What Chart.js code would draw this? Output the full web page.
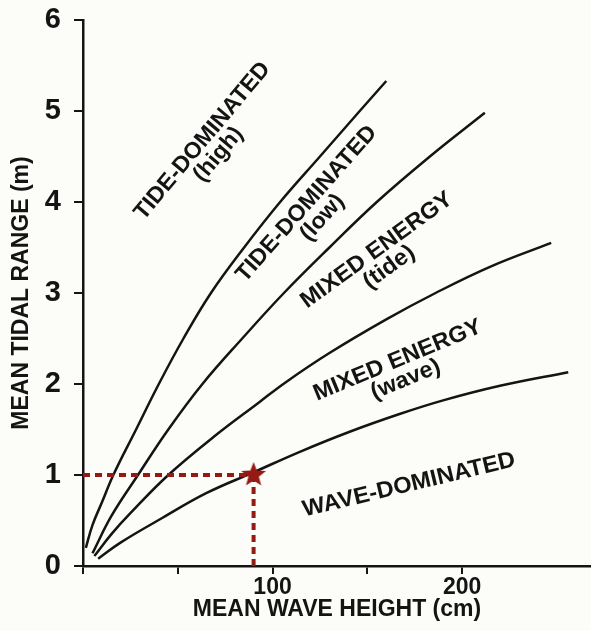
<!DOCTYPE html>
<html>
<head>
<meta charset="utf-8">
<script src="https://cdn.jsdelivr.net/npm/chart.js@4.4.1/dist/chart.umd.min.js"></script>
<style>
  html, body { margin: 0; padding: 0; background: #fcfcf8; }
  #wrap { width: 591px; height: 631px; }
</style>
</head>
<body>
<div id="wrap"><canvas id="chart" width="591" height="631"></canvas></div>
<script>
// Boundary curves (x = mean wave height in cm, y = mean tidal range in m)
const tideHighX = [1.5, 5, 10, 16, 28, 40, 53, 67.5, 85, 104, 125, 146, 160];
const tideHighY = [0.2, 0.45, 0.7, 1.0, 1.5, 2.0, 2.5, 3.0, 3.5, 4.0, 4.5, 5.0, 5.33];

const tideLowX = [5, 15, 29, 45, 63, 84, 106, 130, 155, 183, 212];
const tideLowY = [0.14, 0.55, 1.0, 1.5, 2.0, 2.5, 3.0, 3.5, 4.0, 4.5, 4.98];

const mixedTideX = [6, 15, 25, 45, 69, 93, 107, 130, 160, 186, 215, 247];
const mixedTideY = [0.11, 0.35, 0.58, 1.0, 1.42, 1.8, 2.02, 2.34, 2.71, 3.0, 3.29, 3.55];

const mixedWaveX = [8, 20, 42, 65, 90, 115, 140, 167, 190, 220, 256];
const mixedWaveY = [0.08, 0.26, 0.53, 0.8, 1.03, 1.26, 1.47, 1.67, 1.82, 1.98, 2.13];

// example site marker and its guide lines
const siteX = [90];
const siteY = [1];
const guideHX = [0, 90];
const guideHY = [1, 1];
const guideVX = [90, 90];
const guideVY = [1, 0];

// axes
const xLabelled = [100, 200];
const xStep = 50;
const yStep = 1;

// region names
const regionNames = ['TIDE-DOMINATED', 'TIDE-DOMINATED', 'MIXED ENERGY', 'MIXED ENERGY', 'WAVE-DOMINATED'];
const regionSubs = ['(high)', '(low)', '(tide)', '(wave)', ''];

// where the region names sit (data coords of the first line's centre), rotation, length in px
const regionPlace = [
  { x: 63, y: 4.67, angle: -50, len: 198 },
  { x: 118, y: 3.98, angle: -48.5, len: 200 },
  { x: 155, y: 3.47, angle: -36, len: 182 },
  { x: 166, y: 2.26, angle: -22.5, len: 180 },
  { x: 172, y: 0.89, angle: -13.5, len: 218 }
];

const FONT = '"Liberation Sans", Arial, Helvetica, sans-serif';
const INK = '#141414';
const RED = '#951a14';

const toPoints = (xs, ys) => xs.map((x, i) => ({ x: x, y: ys[i] }));

// filled five-pointed star used as point style
const starImg = document.createElement('canvas');
starImg.width = 28;
starImg.height = 28;
(function () {
  const c = starImg.getContext('2d');
  c.translate(14, 14);
  c.beginPath();
  for (let i = 0; i < 10; i++) {
    const r = i % 2 === 0 ? 13 : 5.5;
    const a = -Math.PI / 2 + i * Math.PI / 5;
    c.lineTo(r * Math.cos(a), r * Math.sin(a));
  }
  c.closePath();
  c.fillStyle = RED;
  c.fill();
})();

const curve = (xs, ys) => ({
  data: toPoints(xs, ys),
  showLine: true,
  borderColor: INK,
  borderWidth: 2.5,
  pointRadius: 0,
  tension: 0.4
});

const guide = (xs, ys) => ({
  data: toPoints(xs, ys),
  showLine: true,
  borderColor: RED,
  borderWidth: 4,
  borderDash: [7, 5],
  pointRadius: 0
});

const regionLabelPlugin = {
  id: 'regionLabels',
  afterDatasetsDraw(chart) {
    const { ctx, scales } = chart;
    ctx.save();
    ctx.fillStyle = INK;
    ctx.font = 'bold 23px ' + FONT;
    ctx.textAlign = 'center';
    ctx.textBaseline = 'middle';
    regionNames.forEach((name, i) => {
      const p = regionPlace[i];
      const px = scales.x.getPixelForValue(p.x);
      const py = scales.y.getPixelForValue(p.y);
      const s = p.len / ctx.measureText(name).width;
      ctx.save();
      ctx.translate(px, py);
      ctx.rotate(p.angle * Math.PI / 180);
      ctx.scale(s, 1);
      ctx.fillText(name, 0, 0);
      if (regionSubs[i]) ctx.fillText(regionSubs[i], 0, 21);
      ctx.restore();
    });
    ctx.restore();
  }
};

const paperPlugin = {
  id: 'paper',
  beforeDraw(chart) {
    const { ctx, width, height } = chart;
    ctx.save();
    ctx.fillStyle = '#fcfcf8';
    ctx.fillRect(0, 0, width, height);
    ctx.restore();
  }
};

new Chart(document.getElementById('chart'), {
  type: 'scatter',
  data: {
    datasets: [
      { data: toPoints(siteX, siteY), pointStyle: starImg, pointRadius: 13, showLine: false, clip: false },
      guide(guideHX, guideHY),
      guide(guideVX, guideVY),
      curve(tideHighX, tideHighY),
      curve(tideLowX, tideLowY),
      curve(mixedTideX, mixedTideY),
      curve(mixedWaveX, mixedWaveY)
    ]
  },
  options: {
    responsive: false,
    animation: false,
    devicePixelRatio: 1,
    layout: { autoPadding: false, padding: { top: 20, right: 0, bottom: 0, left: 0 } },
    plugins: {
      legend: { display: false },
      tooltip: { enabled: false }
    },
    scales: {
      x: {
        type: 'linear',
        min: 0,
        max: 268,
        afterFit: s => { s.height = 65; s.paddingLeft = 0; s.paddingRight = 0; },
        afterBuildTicks: s => { s.ticks = s.ticks.filter(t => t.value % xStep === 0); },
        ticks: {
          stepSize: xStep,
          padding: 0,
          color: INK,
          font: { family: FONT, size: 23, weight: 'bold' },
          callback: v => (xLabelled.includes(v) ? String(v) : '')
        },
        grid: { drawOnChartArea: false, drawTicks: true, tickLength: 8, color: INK, lineWidth: 2 },
        border: { display: true, color: INK, width: 2.5 },
        title: {
          display: true,
          text: 'MEAN WAVE HEIGHT (cm)',
          color: INK,
          font: { family: FONT, size: 23, weight: 'bold' },
          padding: { top: 0, bottom: 8 }
        }
      },
      y: {
        type: 'linear',
        min: 0,
        max: 6,
        afterFit: s => { s.width = 83; s.paddingTop = 0; s.paddingBottom = 0; },
        ticks: {
          stepSize: yStep,
          padding: 13,
          color: INK,
          font: { family: FONT, size: 29, weight: 'bold' }
        },
        grid: { drawOnChartArea: false, drawTicks: true, tickLength: 9, color: INK, lineWidth: 2 },
        border: { display: true, color: INK, width: 2.5 },
        title: {
          display: true,
          text: 'MEAN TIDAL RANGE (m)',
          color: INK,
          font: { family: FONT, size: 23, weight: 'bold' },
          padding: { top: 8, bottom: 0 }
        }
      }
    }
  },
  plugins: [paperPlugin, regionLabelPlugin]
});
</script>
</body>
</html>
